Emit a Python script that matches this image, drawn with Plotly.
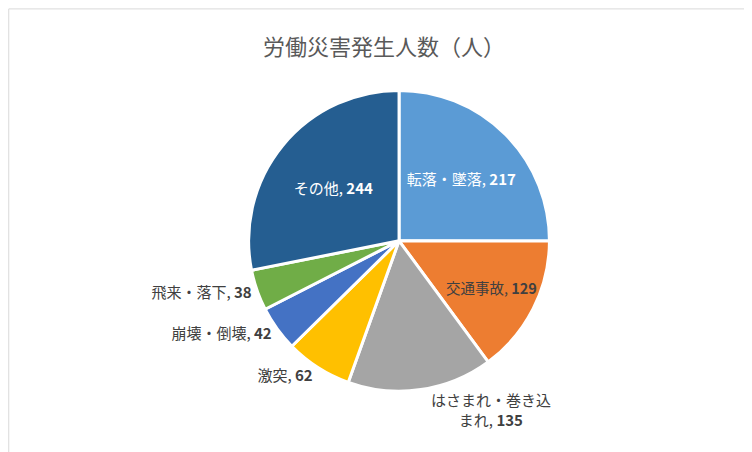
import plotly.graph_objects as go

categories = ["転落・墜落", "交通事故", "はさまれ・巻き込<br>まれ", "激突", "崩壊・倒壊", "飛来・落下", "その他"]
values = [217, 129, 135, 62, 42, 38, 244]
colors = ["#5B9BD5", "#ED7D31", "#A5A5A5", "#FFC000", "#4472C4", "#70AD47", "#255E91"]
text_pos = ["inside", "inside", "outside", "outside", "outside", "outside", "inside"]
text_col = ["white", "#404040", "#404040", "#404040", "#404040", "#404040", "white"]

fig = go.Figure()
fig.add_trace(go.Pie(
    labels=categories,
    values=values,
    sort=False,
    direction="clockwise",
    rotation=0,
    marker=dict(colors=colors, line=dict(color="white", width=3)),
    texttemplate="%{label}, <b>%{value}</b>",
    textposition=text_pos,
    textfont=dict(color=text_col, size=15),
    insidetextorientation="horizontal",
    showlegend=False,
    domain=dict(x=[0.32, 0.72], y=[0.15, 0.82]),
))
fig.update_layout(
    width=752, height=452,
    margin=dict(l=0, r=0, t=0, b=0),
    paper_bgcolor="white",
    font=dict(family="Noto Sans CJK JP", color="#404040"),
    title=dict(text="労働災害発生人数（人）", x=0.5, y=0.93, xanchor="center",
               font=dict(size=22, color="#595959")),
    shapes=[dict(type="rect", xref="paper", yref="paper", x0=0.001, y0=0.002, x1=0.998, y1=0.998,
                 line=dict(color="#D9D9D9", width=1))],
)
fig.write_html("out.html")
